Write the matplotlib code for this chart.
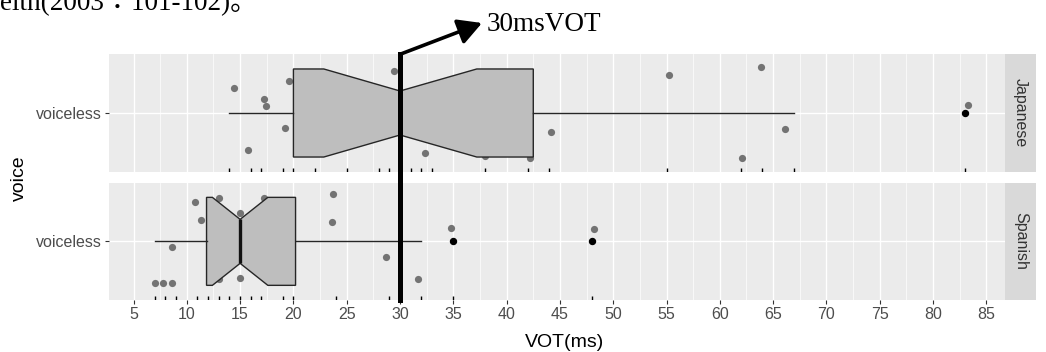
import numpy as np
import matplotlib
matplotlib.use('Agg')
import matplotlib.pyplot as plt

# facet rows, top to bottom
languages = ['Japanese', 'Spanish']
voice_level = 'voiceless'

# VOT values (ms) shown as rug marks along each panel bottom
jp_vot = [14, 16, 17, 19, 20, 22, 25, 28, 29, 31, 32, 33, 38, 42, 44, 55, 62, 64, 67, 83]
es_vot = [7, 8, 9, 11, 12, 13, 14, 15, 16, 17, 19, 20, 24, 29, 32, 35, 48]

# jittered points as drawn: x in ms, y = offset from the 'voiceless' line
jp_jit_x = [14.4, 15.7, 17.2, 17.4, 19.2, 19.6, 29.4, 32.3, 38.0, 42.2, 44.2, 55.2, 62.1, 63.9, 66.1, 83.3]
jp_jit_y = [0.26, -0.38, 0.14, 0.07, -0.15, 0.33, 0.43, -0.41, -0.44, -0.46, -0.19, 0.39, -0.46, 0.47, -0.16, 0.08]
es_jit_x = [7.05, 7.8, 8.6, 8.6, 10.8, 11.3, 13.0, 13.0, 15.0, 15.0, 17.2, 23.7, 23.6, 28.7, 31.7, 34.8, 48.2]
es_jit_y = [-0.43, -0.43, -0.43, -0.06, 0.40, 0.22, 0.44, -0.39, 0.29, -0.37, 0.44, 0.48, 0.20, -0.16, -0.39, 0.14, 0.13]

# notched boxplot summaries
jp_box = dict(whislo=14, q1=20, med=30, q3=42.5, whishi=67, cilo=22.85, cihi=37.2, fliers=[83])
es_box = dict(whislo=7, q1=11.85, med=15, q3=20.2, whishi=32, cilo=12.4, cihi=17.6, fliers=[35, 48])

x_ticks = list(range(5, 90, 5))
ref_vot = 30

W, H = 1046, 352
fig = plt.figure(figsize=(W / 100, H / 100), dpi=100)
plt.rcParams['font.family'] = ['Liberation Sans', 'DejaVu Sans']

def px_rect(x0, y0, x1, y1):
    # image pixel box (top-left origin) -> figure fraction rect
    return [x0 / W, 1 - y1 / H, (x1 - x0) / W, (y1 - y0) / H]

panels = [
    (languages[0], jp_vot, jp_jit_x, jp_jit_y, jp_box, (54.3, 171.7)),
    (languages[1], es_vot, es_jit_x, es_jit_y, es_box, (182.7, 300.0)),
]

axes = []
for i, (lang, vot, jx, jy, stats, (ytop, ybot)) in enumerate(panels):
    ax = fig.add_axes(px_rect(109, ytop, 1005, ybot))
    axes.append(ax)
    ax.set_facecolor('#EBEBEB')
    for s in ax.spines.values():
        s.set_visible(False)
    ax.set_xlim(2.7, 86.75)
    ax.set_ylim(0.4, 1.6)
    ax.set_xticks(x_ticks)
    ax.set_xticks(np.arange(7.5, 86, 5), minor=True)
    ax.grid(True, which='major', color='white', lw=1.0)
    ax.grid(True, which='minor', axis='x', color='white', lw=0.5)
    ax.set_axisbelow(True)
    ax.tick_params(axis='y', length=3, width=0.8, color='#333333', pad=2.5,
                   labelsize=11.5, labelcolor='#4D4D4D')
    ax.tick_params(axis='x', which='minor', length=0)
    if i == 0:
        ax.tick_params(axis='x', which='major', length=0, labelbottom=False)
    else:
        ax.tick_params(axis='x', which='major', length=3, width=0.8, color='#333333',
                       pad=2, labelsize=11.5, labelcolor='#4D4D4D')

    # jitter first, box drawn over it
    ax.scatter(jx, 1 + np.array(jy), s=27, color='#737373', lw=0, zorder=2)
    st = dict(stats, label=lang)
    ax.bxp([st], positions=[1], widths=0.9, orientation='horizontal', shownotches=True,
           showcaps=False, patch_artist=True,
           boxprops=dict(facecolor='#BEBEBE', edgecolor='#262626', lw=1.0),
           whiskerprops=dict(color='#262626', lw=1.0),
           medianprops=dict(color='#111111', lw=2.4),
           flierprops=dict(marker='o', markerfacecolor='black', markeredgecolor='black',
                           markersize=4.3, zorder=4),
           manage_ticks=False)
    ax.set_yticks([1])
    ax.set_yticklabels([voice_level])

    # rug along the bottom
    ax.vlines(vot, 0, 0.035, transform=ax.get_xaxis_transform(), color='black', lw=1.0, zorder=4)

    # reference line at 30 ms, bridging the gap between panels
    ymin = -0.1 if i == 0 else 0
    ax.axvline(ref_vot, ymin=ymin, ymax=1, color='black', lw=3.6, zorder=5, clip_on=False)

    # facet strip
    sax = fig.add_axes(px_rect(1005, ytop, 1036, ybot))
    sax.set_facecolor('#D9D9D9')
    sax.set_xticks([])
    sax.set_yticks([])
    for s in sax.spines.values():
        s.set_visible(False)
    sax.text(0.5, 0.5, lang, rotation=-90, ha='center', va='center',
             fontsize=11.5, color='#333333', transform=sax.transAxes)

bottom = axes[1]
bottom.set_xlabel('VOT(ms)', fontsize=14, labelpad=1)
bottom.xaxis.set_label_coords(0.508, -0.29)
fig.text(19 / W, 1 - 178 / H, 'voice', rotation=90, ha='center', va='center', fontsize=14)

# hand-drawn annotation above the chart
top = axes[0]
top.annotate('', xy=(482, H - 23), xycoords='figure pixels',
             xytext=(ref_vot, 1.0), textcoords=('data', 'axes fraction'),
             arrowprops=dict(arrowstyle='-|>,head_length=0.55,head_width=0.3', lw=2.6,
                             color='black', mutation_scale=26, shrinkA=0, shrinkB=0))
fig.text(487 / W, 1 - 30.7 / H, '30msVOT', family='Liberation Serif', fontsize=19.5,
         va='baseline', ha='left')

# cropped line of the surrounding document text
fig.text(0, 1 - 10 / H, 'eith(2003：101-102)。', family=['Liberation Serif', 'Noto Sans CJK JP'],
         fontsize=19.5, va='baseline', ha='left')

fig.savefig('out.png', dpi=100)
